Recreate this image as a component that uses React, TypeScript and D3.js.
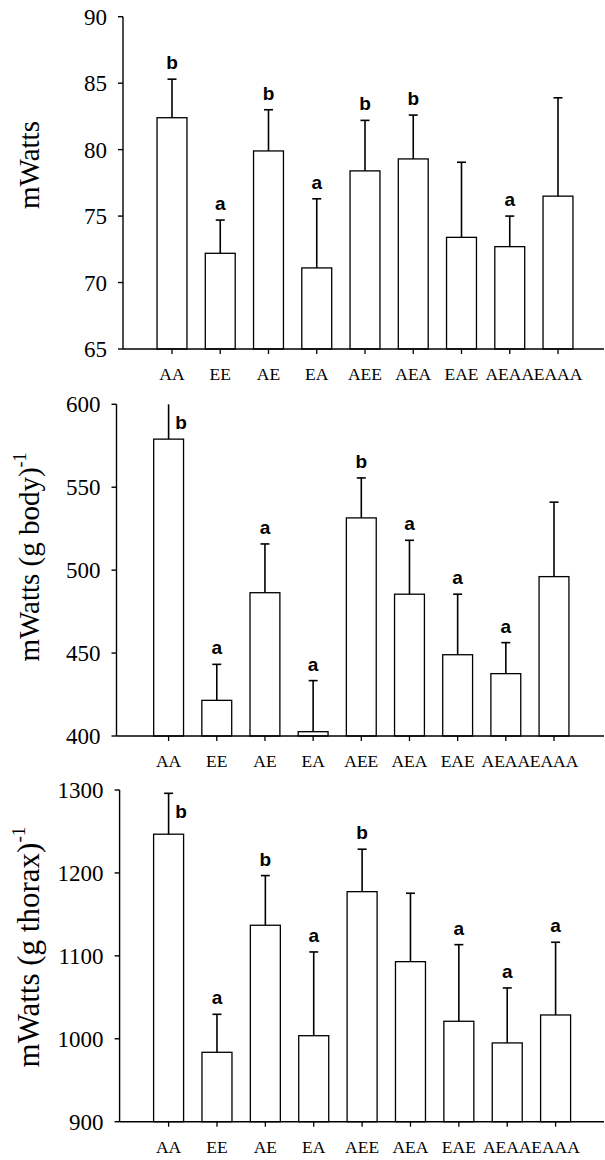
import React from 'react';
import * as d3 from 'd3';

const categories = ['AA', 'EE', 'AE', 'EA', 'AEE', 'AEA', 'EAE', 'AEAA', 'EAAA'];

// panel 1: mWatts
const powerMeans = [82.4, 72.2, 79.9, 71.1, 78.4, 79.3, 73.4, 72.7, 76.5];
const powerUpper = [85.3, 74.7, 83.0, 76.3, 82.2, 82.6, 79.05, 75.0, 83.9];
const powerLetters = ['b', 'a', 'b', 'a', 'b', 'b', '', 'a', ''];
const powerTicks = [65, 70, 75, 80, 85, 90];

// panel 2: mWatts (g body)-1
const bodyMeans = [579, 421.5, 486.4, 402.6, 531.5, 485.5, 449.0, 437.6, 496.1];
const bodyUpper = [600, 443.2, 515.8, 433.4, 555.6, 518.0, 485.5, 456.3, 541.0];
const bodyLetters = ['b', 'a', 'a', 'a', 'b', 'a', 'a', 'a', ''];
const bodyTicks = [400, 450, 500, 550, 600];

// panel 3: mWatts (g thorax)-1
const thoraxMeans = [1246.7, 983.7, 1136.9, 1003.7, 1177.4, 1093, 1021.1, 995, 1028.7];
const thoraxUpper = [1296, 1029.5, 1196.8, 1104.7, 1228.6, 1175.5, 1113.5, 1061.3, 1116.4];
const thoraxLetters = ['b', 'a', 'b', 'a', 'b', '', 'a', 'a', 'a'];
const thoraxTicks = [900, 1000, 1100, 1200, 1300];

const serif = '"Liberation Serif", "Times New Roman", serif';
const sans = '"Liberation Sans", Arial, sans-serif';

type PanelProps = {
  means: number[];
  upper: number[];
  letters: string[];
  ticks: number[];
  axisX: number;
  first: number;
  last: number;
  yBottom: number;
  yTop: number;
  label: string;
  sup?: string;
  labelY: number;
  labelSize: number;
};

const Panel = (p: PanelProps) => {
  const n = categories.length;
  const step = (p.last - p.first) / (n - 1);
  const x = d3
    .scaleBand()
    .domain(categories)
    .range([p.first - step / 2, p.last + step / 2])
    .paddingInner(0.38)
    .paddingOuter(0.19);
  const y = d3
    .scaleLinear()
    .domain([p.ticks[0], p.ticks[p.ticks.length - 1]])
    .range([p.yBottom, p.yTop]);
  const bw = x.bandwidth();
  const cx = (c: string) => (x(c) as number) + bw / 2;
  const yMax = p.ticks[p.ticks.length - 1];

  return (
    <g>
      {/* bars */}
      {categories.map((c, i) => (
        <rect
          key={c}
          x={x(c)}
          y={y(p.means[i])}
          width={bw}
          height={p.yBottom - y(p.means[i])}
          fill="#fff"
          stroke="#000"
          strokeWidth={1.3}
        />
      ))}
      {/* error bars */}
      {categories.map((c, i) => (
        <g key={c + 'e'} stroke="#000" strokeWidth={1.6}>
          <line x1={cx(c)} x2={cx(c)} y1={y(p.means[i])} y2={y(p.upper[i])} />
          {p.upper[i] < yMax && (
            <line x1={cx(c) - 4.5} x2={cx(c) + 4.5} y1={y(p.upper[i])} y2={y(p.upper[i])} />
          )}
        </g>
      ))}
      {/* significance letters */}
      {categories.map((c, i) => {
        if (!p.letters[i]) return null;
        const top = y(p.upper[i]);
        const beside = top - p.yTop < 30;
        return (
          <text
            key={c + 'l'}
            x={beside ? cx(c) + 12.5 : cx(c)}
            y={beside ? top + 25 : top - 10}
            textAnchor="middle"
            fontFamily={sans}
            fontWeight="bold"
            fontSize={19}
          >
            {p.letters[i]}
          </text>
        );
      })}
      {/* y axis */}
      <line x1={p.axisX} x2={p.axisX} y1={p.yTop} y2={p.yBottom} stroke="#000" strokeWidth={1.4} />
      {p.ticks.map((t) => (
        <g key={t}>
          <line x1={p.axisX - 5} x2={p.axisX} y1={y(t)} y2={y(t)} stroke="#000" strokeWidth={1.4} />
          <text
            x={p.axisX - 16}
            y={y(t)}
            dy="0.35em"
            textAnchor="end"
            fontFamily={serif}
            fontSize={23}
          >
            {t}
          </text>
        </g>
      ))}
      {/* x axis */}
      <line x1={p.axisX} x2={604} y1={p.yBottom} y2={p.yBottom} stroke="#000" strokeWidth={1.4} />
      {categories.map((c) => (
        <g key={c + 't'}>
          <line x1={cx(c)} x2={cx(c)} y1={p.yBottom} y2={p.yBottom + 5} stroke="#000" strokeWidth={1.3} />
          <text x={cx(c)} y={p.yBottom + 31} textAnchor="middle" fontFamily={serif} fontSize={17.5}>
            {c}
          </text>
        </g>
      ))}
      {/* y label */}
      <text
        transform={`translate(38.5,${p.labelY}) rotate(-90)`}
        textAnchor="middle"
        fontFamily={serif}
        fontSize={p.labelSize}
      >
        {p.label}
        {p.sup && (
          <tspan fontSize={p.labelSize * 0.62} dy={-p.labelSize * 0.42}>
            {p.sup}
          </tspan>
        )}
      </text>
    </g>
  );
};

export default function App() {
  return (
    <svg
      width={605}
      height={1160}
      style={{ position: 'absolute', left: 0, top: 0, background: '#fff' }}
    >
      <Panel
        means={powerMeans}
        upper={powerUpper}
        letters={powerLetters}
        ticks={powerTicks}
        axisX={123}
        first={172}
        last={558}
        yBottom={349}
        yTop={16.7}
        label="mWatts"
        labelY={165}
        labelSize={29}
      />
      <Panel
        means={bodyMeans}
        upper={bodyUpper}
        letters={bodyLetters}
        ticks={bodyTicks}
        axisX={116.5}
        first={168.6}
        last={554}
        yBottom={736}
        yTop={404.3}
        label="mWatts (g body)"
        sup="-1"
        labelY={557}
        labelSize={29}
      />
      <Panel
        means={thoraxMeans}
        upper={thoraxUpper}
        letters={thoraxLetters}
        ticks={thoraxTicks}
        axisX={119.6}
        first={168.6}
        last={555.6}
        yBottom={1121.7}
        yTop={790}
        label="mWatts (g thorax)"
        sup="-1"
        labelY={947}
        labelSize={31}
      />
    </svg>
  );
}
